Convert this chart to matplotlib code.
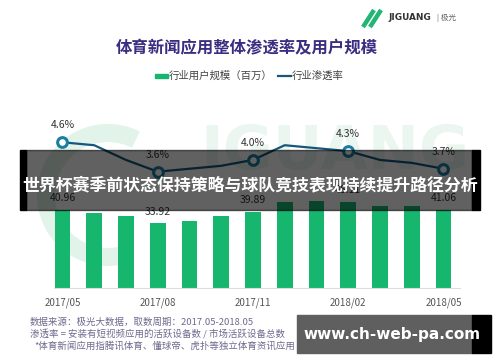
import matplotlib
matplotlib.use("Agg")
import matplotlib.pyplot as plt
from matplotlib.patches import Rectangle, Arc

plt.rcParams["font.family"] = ["Noto Sans CJK SC", "DejaVu Sans"]

# data
months = list(range(13))
tick_pos = [0, 3, 6, 9, 12]
tick_labels = ["2017/05", "2017/08", "2017/11", "2018/02", "2018/05"]
users = [40.96, 39.5, 37.8, 33.92, 35.2, 37.9, 39.89, 45.1, 45.7, 45.11, 42.9, 42.9, 41.06]
rate = [4.6, 4.5, 4.0, 3.6, 3.7, 3.8, 4.0, 4.5, 4.4, 4.3, 4.0, 3.9, 3.7]
label_idx = [0, 3, 6, 9, 12]

title = "体育新闻应用整体渗透率及用户规模"
legend_bar = "行业用户规模（百万）"
legend_line = "行业渗透率"
banner = "世界杯赛季前状态保持策略与球队竞技表现持续提升路径分析"
notes = [
    "数据来源：极光大数据，取数周期：2017.05-2018.05",
    "渗透率 = 安装有短视频应用的活跃设备数 / 市场活跃设备总数",
    "*体育新闻应用指腾讯体育、懂球帝、虎扑等独立体育资讯应用",
]
site = "www.ch-web-pa.com"

W, H = 500, 362
green = "#17b66e"
blue = "#17577d"


def fx(x):
    return x / W


def fy(y):
    return 1 - y / H


fig = plt.figure(figsize=(W / 100, H / 100), dpi=100)
fig.patch.set_facecolor("white")

# faint background watermark
fig.text(fx(335), fy(152), "IGUANG", fontsize=44, fontweight="bold", color="#eaf6ef",
         family="DejaVu Sans", ha="center", va="center", zorder=-2)
arc = Arc((fx(108), fy(195)), 124 / W, 124 / H, theta1=70, theta2=280,
          transform=fig.transFigure, color="#e2f3e9", lw=13, zorder=-2)
fig.add_artist(arc)

ax = fig.add_axes([fx(53.9), fy(288), 406.4 / W, (288 - 120) / H])
ax.patch.set_visible(False)
ax.bar(months, users, width=0.5, color=green, zorder=2)
ax.set_xlim(-0.27, 12.53)
ax.set_ylim(0, 88.2)
for s in ["top", "left", "right"]:
    ax.spines[s].set_visible(False)
ax.spines["bottom"].set_color("#dddddd")
ax.spines["bottom"].set_linewidth(0.8)
ax.set_yticks([])
ax.set_xticks(tick_pos)
ax.set_xticklabels(tick_labels)
ax.tick_params(axis="x", length=0, pad=6.5, labelsize=7, labelcolor="#555555")
for i in label_idx:
    ax.annotate(f"{users[i]:.2f}", (months[i], users[i]), xytext=(0, 8.5),
                textcoords="offset points", ha="center", va="center",
                fontsize=7.5, color="#333333")

ax2 = ax.twinx()
ax2.set_ylim(-0.356, 5.358)
ax2.plot(months, rate, color=blue, lw=1.6, zorder=3)
ax2.plot([months[i] for i in label_idx], [rate[i] for i in label_idx], "o",
         ms=7, mfc="white", mec="#1a7ea3", mew=2.2, zorder=4)
for s in ax2.spines.values():
    s.set_visible(False)
ax2.set_yticks([])
for i in label_idx:
    ax2.annotate(f"{rate[i]:.1f}%", (months[i], rate[i]), xytext=(0, 12.2),
                 textcoords="offset points", ha="center", va="center",
                 fontsize=7.5, color="#333333")

# title and legend
fig.text(fx(247), fy(48), title, fontsize=11.8, fontweight="bold", color="#3b2d80",
         ha="center", va="center")
fig.add_artist(Rectangle((fx(155), fy(78)), 13 / W, 4 / H, color=green,
                         transform=fig.transFigure))
fig.text(fx(169), fy(76), legend_bar, fontsize=7.5, color="#444444", va="center")
fig.add_artist(plt.Line2D([fx(278), fx(291)], [fy(76), fy(76)], color=blue, lw=1.6,
                          transform=fig.transFigure))
fig.text(fx(292), fy(76), legend_line, fontsize=7.5, color="#444444", va="center")

# logo: two slanted strokes "//"
for x0 in (363, 370):
    fig.add_artist(plt.Line2D([fx(x0), fx(x0 + 11)], [fy(27), fy(10)], color="#22b573",
                              lw=3.2, solid_capstyle="butt", transform=fig.transFigure))
fig.text(fx(388), fy(18), "JIGUANG", fontsize=6.4, fontweight="bold", color="#333333",
         family="DejaVu Sans", va="center")
fig.text(fx(437), fy(18), "| 极光", fontsize=5.5, color="#666666", va="center")

# notes
for k, line in enumerate(notes):
    fig.text(fx(30 if k < 2 else 34), fy(322 + 12 * k), line, fontsize=6.8,
             color="#6e6a8e", va="center")

# overlay banner
fig.add_artist(Rectangle((fx(26), fy(210)), 446 / W, 60 / H, color="black", alpha=0.62,
                         transform=fig.transFigure, zorder=10))
fig.add_artist(Rectangle((fx(20), fy(210)), 6 / W, 60 / H, color="black",
                         transform=fig.transFigure, zorder=10))
fig.add_artist(Rectangle((fx(472), fy(210)), 8 / W, 60 / H, color="black",
                         transform=fig.transFigure, zorder=10))
fig.text(fx(250), fy(185), banner, fontsize=12.2, fontweight="bold", color="white",
         ha="center", va="center", zorder=11)

# site box
fig.add_artist(Rectangle((fx(297), fy(353)), 175 / W, 38 / H, color="#5f5f5f",
                         transform=fig.transFigure, zorder=10))
fig.add_artist(Rectangle((fx(472), fy(353)), 19 / W, 38 / H, color="black",
                         transform=fig.transFigure, zorder=10))
fig.text(fx(392), fy(334), site, fontsize=11, fontweight="bold", color="white",
         family="DejaVu Sans", ha="center", va="center", zorder=11)

fig.savefig("out.png", dpi=100)
